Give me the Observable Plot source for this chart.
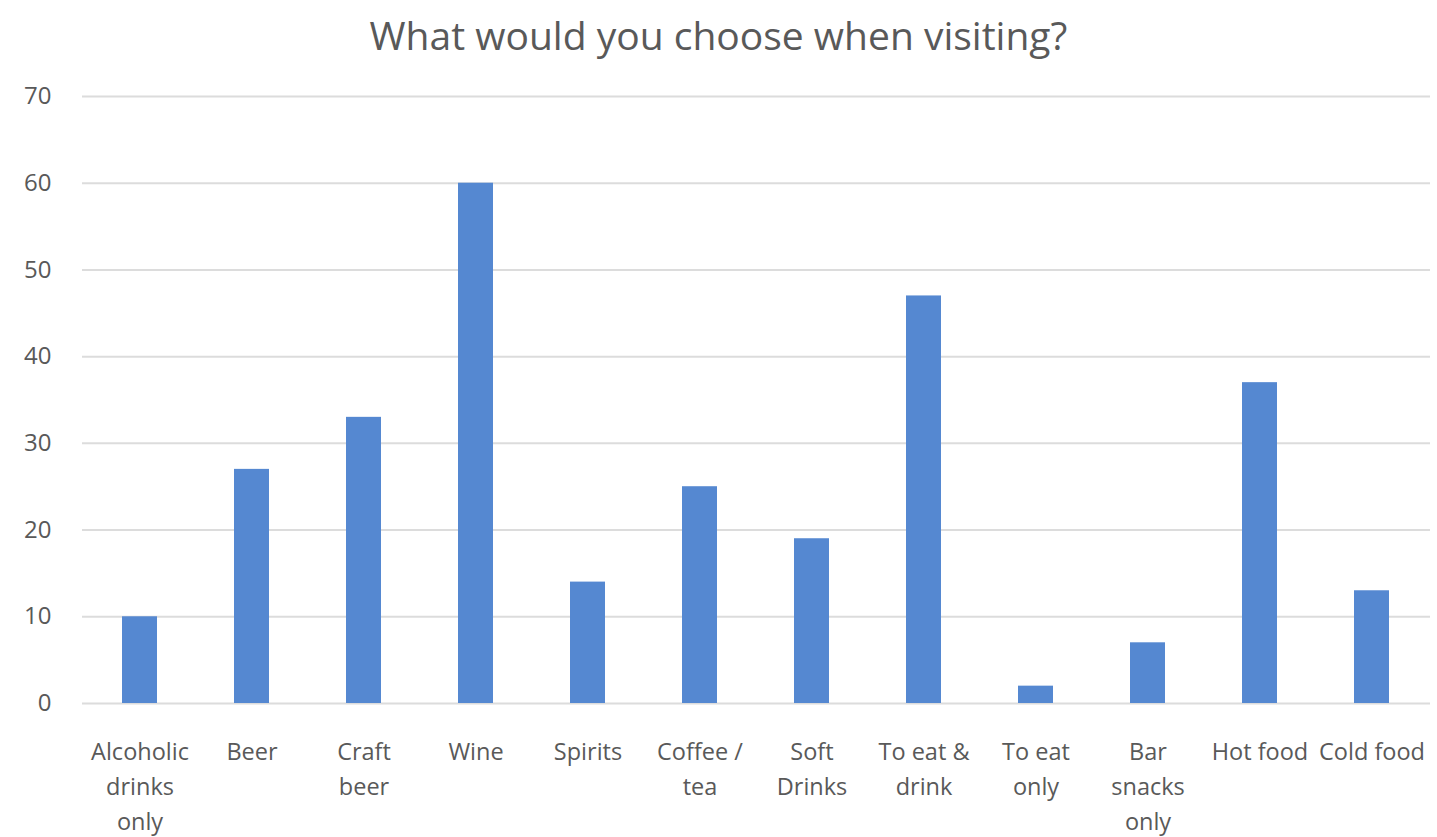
<!DOCTYPE html>
<html>
<head>
<meta charset="utf-8">
<script src="https://cdn.jsdelivr.net/npm/d3@7"></script>
<script src="https://cdn.jsdelivr.net/npm/@observablehq/plot@0.6"></script>
<style>
  html, body { margin: 0; padding: 0; background: #fff; }
  #title { width: 1437px; height: 70px; line-height: 70px; text-align: center;
           font-family: "Open Sans", sans-serif; font-size: 39px; color: #595959; }
  #chart svg { display: block; }
</style>
</head>
<body>
<div id="title">What would you choose when visiting?</div>
<div id="chart"></div>
<script>
const categories = ["Alcoholic drinks only", "Beer", "Craft beer", "Wine", "Spirits", "Coffee / tea",
  "Soft Drinks", "To eat & drink", "To eat only", "Bar snacks only", "Hot food", "Cold food"];
const values = [10, 27, 33, 60, 14, 25, 19, 47, 2, 7, 37, 13];
const tickLabels = ["Alcoholic\ndrinks\nonly", "Beer", "Craft\nbeer", "Wine", "Spirits", "Coffee /\ntea",
  "Soft\nDrinks", "To eat &\ndrink", "To eat\nonly", "Bar\nsnacks\nonly", "Hot food", "Cold food"];
const yTicks = [0, 10, 20, 30, 40, 50, 60, 70];

const data = categories.map((c, i) => ({ category: c, value: values[i] }));
const labelOf = new Map(categories.map((c, i) => [c, tickLabels[i]]));

const chart = Plot.plot({
  width: 1437,
  height: 767,
  marginTop: 26,
  marginBottom: 134,
  marginLeft: 82,
  marginRight: 7,
  style: { fontFamily: "'Open Sans', sans-serif", color: "#595959", background: "#fff" },
  x: { domain: categories, paddingInner: 0.685, paddingOuter: 0.3425, label: null },
  y: { domain: [0, 70], label: null },
  marks: [
    Plot.gridY(yTicks, { stroke: "#dcdcdc", strokeOpacity: 1, strokeWidth: 2 }),
    Plot.barY(data, { x: "category", y: "value", fill: "#5588d1" }),
    Plot.axisY(yTicks, { tickSize: 0, tickPadding: 31, fontSize: 24, fill: "#595959", label: null }),
    Plot.axisX({ tickSize: 0, tickPadding: 31, fontSize: 23.5, lineHeight: 1.5, fill: "#595959",
      tickFormat: d => labelOf.get(d), label: null })
  ]
});
document.getElementById("chart").appendChild(chart);
</script>
</body>
</html>
